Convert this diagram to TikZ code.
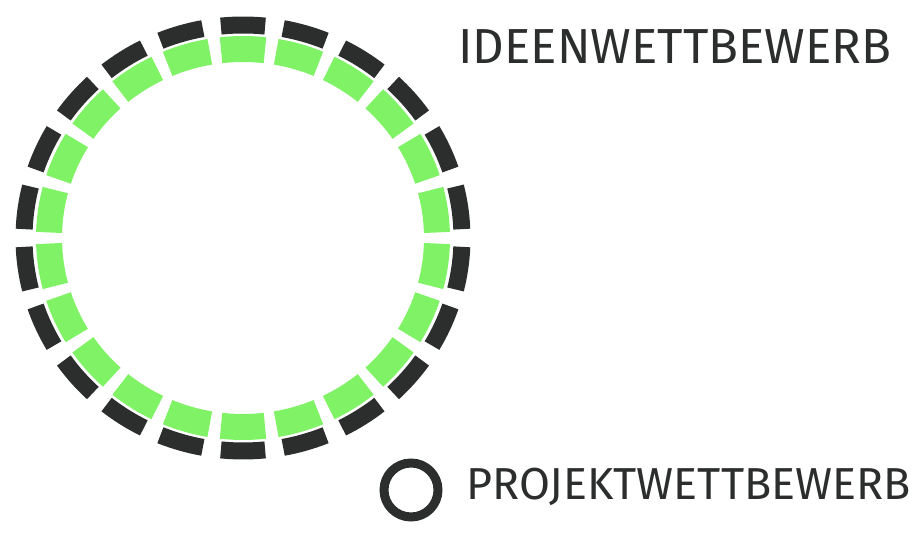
\documentclass[tikz,border=0pt]{standalone}
\usepackage{fontspec}
\setsansfont{Fira Sans}
\usetikzlibrary{positioning}
\definecolor{ink}{HTML}{2B2E2C}
\definecolor{marker}{HTML}{80F266}

\begin{document}
\begin{tikzpicture}[
  x=0.02cm, y=0.02cm,
  inkdash/.style={draw=ink, line width=0.34cm},
  greendash/.style={draw=marker, line width=0.52cm},
  lbl/.style={font=\sffamily, text=ink, anchor=west, inner sep=0pt},
  ring/.style={circle, draw=ink, line width=0.18cm, minimum size=1.08cm, inner sep=0pt}
]
\useasboundingbox (0,0) rectangle (922,533);

% Centre of the big ring
\def\cx{243}
\def\cy{295}

% Big dashed ring: green inside, black outside
\foreach \i in {0,...,21} {
  \pgfmathsetmacro{\as}{90 - \i*360/22 + 6.5}
  \pgfmathsetmacro{\ae}{90 - \i*360/22 - 6.5}
  \draw[greendash] (\cx,\cy) ++(\as:194 and 189)
    arc[start angle=\as, end angle=\ae, x radius=194, y radius=189];
}
\foreach \i in {0,...,21} {
  \pgfmathsetmacro{\as}{90 - \i*360/22 + 5.8}
  \pgfmathsetmacro{\ae}{90 - \i*360/22 - 5.8}
  \draw[inkdash] (\cx,\cy) ++(\as:219 and 213)
    arc[start angle=\as, end angle=\ae, x radius=219, y radius=213];
}

% Labels
\node[lbl, font=\sffamily\fontsize{28}{30}\selectfont] (ideen) at (458,486) {IDEENWETTBEWERB};
\node[ring] (proj) at (411,43) {};
\node[lbl, font=\sffamily\fontsize{25.5}{28}\selectfont] (projekt) at (466,46) {PROJEKTWETTBEWERB};
\end{tikzpicture}
\end{document}
